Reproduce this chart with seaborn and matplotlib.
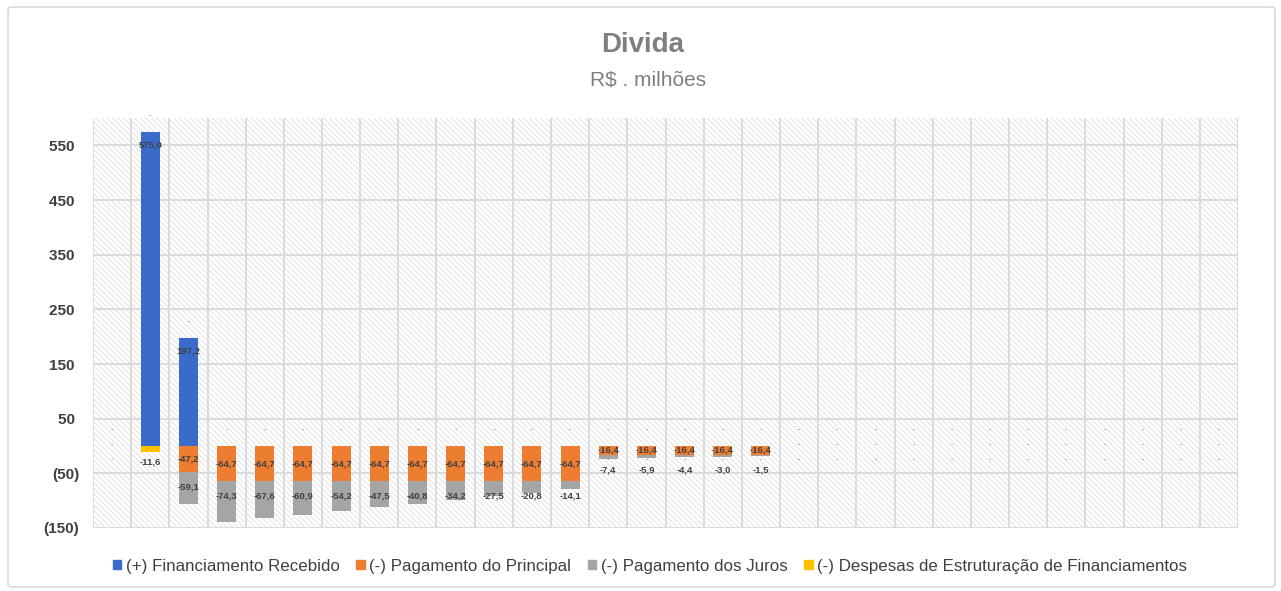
import numpy as np
import pandas as pd
import matplotlib
matplotlib.use("Agg")
import matplotlib.pyplot as plt
import seaborn as sns
from matplotlib.patches import Rectangle, FancyBboxPatch
from matplotlib.ticker import FixedLocator, FuncFormatter

# ---------------- data ----------------
periodos = [str(y) for y in range(2021, 2051)]
financiamento = [0, 575.0, 197.2, 0, 0, 0, 0, 0, 0, 0, 0, 0, 0, 0, 0,
                 0, 0, 0, 0, 0, 0, 0, 0, 0, 0, 0, 0, 0, 0, 0]
principal = [0, 0, -47.2, -64.7, -64.7, -64.7, -64.7, -64.7, -64.7, -64.7,
             -64.7, -64.7, -64.7, -16.4, -16.4, -16.4, -16.4, -16.4,
             0, 0, 0, 0, 0, 0, 0, 0, 0, 0, 0, 0]
juros = [0, 0, -59.1, -74.3, -67.6, -60.9, -54.2, -47.5, -40.8, -34.2,
         -27.5, -20.8, -14.1, -7.4, -5.9, -4.4, -3.0, -1.5,
         0, 0, 0, 0, 0, 0, 0, 0, 0, 0, 0, 0]
despesas = [0, -11.6, 0, 0, 0, 0, 0, 0, 0, 0, 0, 0, 0, 0, 0,
            0, 0, 0, 0, 0, 0, 0, 0, 0, 0, 0, 0, 0, 0, 0]
series_names = ["(+) Financiamento Recebido", "(-) Pagamento do Principal",
                "(-) Pagamento dos Juros",
                "(-) Despesas de Estruturação de Financiamentos"]
yticks = [550, 450, 350, 250, 150, 50, -50, -150]

BLUE, ORANGE, GRAY, YELLOW = "#3A6BCB", "#ED7D31", "#A5A5A5", "#FFC000"
TXT = "#404040"

df = pd.DataFrame({"periodo": periodos, "fin": financiamento,
                   "principal": principal, "juros": juros,
                   "despesas": despesas})

sns.set_theme(style="white")
plt.rcParams['font.family'] = ['Liberation Sans', 'DejaVu Sans']
plt.rcParams['hatch.linewidth'] = 0.6
plt.rcParams['hatch.color'] = "#dedede"

W, H = 1281, 591
fig = plt.figure(figsize=(W / 100, H / 100), dpi=100)
fig.patch.set_facecolor("white")
fig.patches.append(FancyBboxPatch((8 / W, 4 / H), 1267 / W, 580 / H,
                                  boxstyle="round,pad=0,rounding_size=0.004",
                                  transform=fig.transFigure, facecolor="none",
                                  edgecolor="#d9d9d9", linewidth=1.2))

ax = fig.add_axes([93 / W, 1 - 528 / H, (1238 - 93) / W, (528 - 118) / H])

# hatched background
ax.add_patch(Rectangle((0, 0), 1, 1, transform=ax.transAxes, facecolor="white",
                       edgecolor="#dedede", hatch="\\\\\\\\\\\\", linewidth=0,
                       zorder=0))

common = dict(data=df, x="periodo", order=periodos, width=0.5, saturation=1,
              errorbar=None, ax=ax, linewidth=0, zorder=3)
p = np.array(principal)
j = np.array(juros)
sns.barplot(y="fin", color=BLUE, **common)
sns.barplot(y="principal", color=ORANGE, **common)
sns.barplot(y="juros", color=GRAY, bottom=p, **common)
sns.barplot(y="despesas", color=YELLOW, bottom=p + j, **common)

ax.set_ylim(-150, 600)
ax.set_xlim(-0.5, len(periodos) - 0.5)
ax.set_xlabel("")
ax.set_ylabel("")
ax.set_xticks([])
ax.yaxis.set_major_locator(FixedLocator(yticks))
ax.yaxis.set_major_formatter(FuncFormatter(
    lambda v, _: f"({abs(int(v))})" if v < 0 else f"{int(v)} "))
ax.tick_params(axis="y", length=0, pad=10, labelsize=11, labelcolor=TXT)
for t in ax.get_yticklabels():
    t.set_fontweight("bold")

# grid
for v in yticks:
    ax.axhline(v, color="#d9d9d9", lw=1.3, zorder=1)
for i in range(len(periodos) + 1):
    ax.axvline(i - 0.5, color="#d9d9d9", lw=1.3, zorder=1)
for s in ax.spines.values():
    s.set_visible(False)


def fmt(v):
    return f"{v:.1f}".replace(".", ",")


lab = dict(ha="center", va="center", fontsize=6.8, color=TXT, zorder=5,
           fontweight="bold")
dash = dict(ha="center", va="center", fontsize=5, color="#777777", zorder=5)
for i in range(len(periodos)):
    f, pr, ju, de = financiamento[i], principal[i], juros[i], despesas[i]
    if f == 0 and pr == 0 and ju == 0 and de == 0:
        for yy in (30, 3, -25):
            ax.text(i, yy, "-", **dash)
        continue
    if f != 0:
        ax.text(i, f - 24, fmt(f), **lab)
    ax.text(i, max(f, 0) + 30, "-", **dash)
    if pr != 0:
        ax.text(i, pr / 2, fmt(pr), **lab)
    if ju != 0:
        ax.text(i, pr - 27, fmt(ju), **lab)
    if de != 0:
        ax.text(i, de - 17, fmt(de), **lab)
    if pr == -16.4:
        ax.text(i, -25, "-", **dash)

# titles
fig.text(643 / W, 1 - 45 / H, "Divida", ha="center", va="center",
         fontsize=20, fontweight="bold", color="#7f7f7f")
fig.text(648 / W, 1 - 80 / H, "R$ . milhões", ha="center", va="center",
         fontsize=15, color="#7f7f7f")

handles = [Rectangle((0, 0), 1, 1, color=c) for c in (BLUE, ORANGE, GRAY, YELLOW)]
fig.legend(handles, series_names, loc="center", bbox_to_anchor=(650 / W, 1 - 566 / H),
           ncol=4, frameon=False, fontsize=12.2, handlelength=0.5,
           handleheight=0.5, handletextpad=0.25, columnspacing=1.0,
           labelcolor=TXT)

fig.savefig("out.png", dpi=100)
